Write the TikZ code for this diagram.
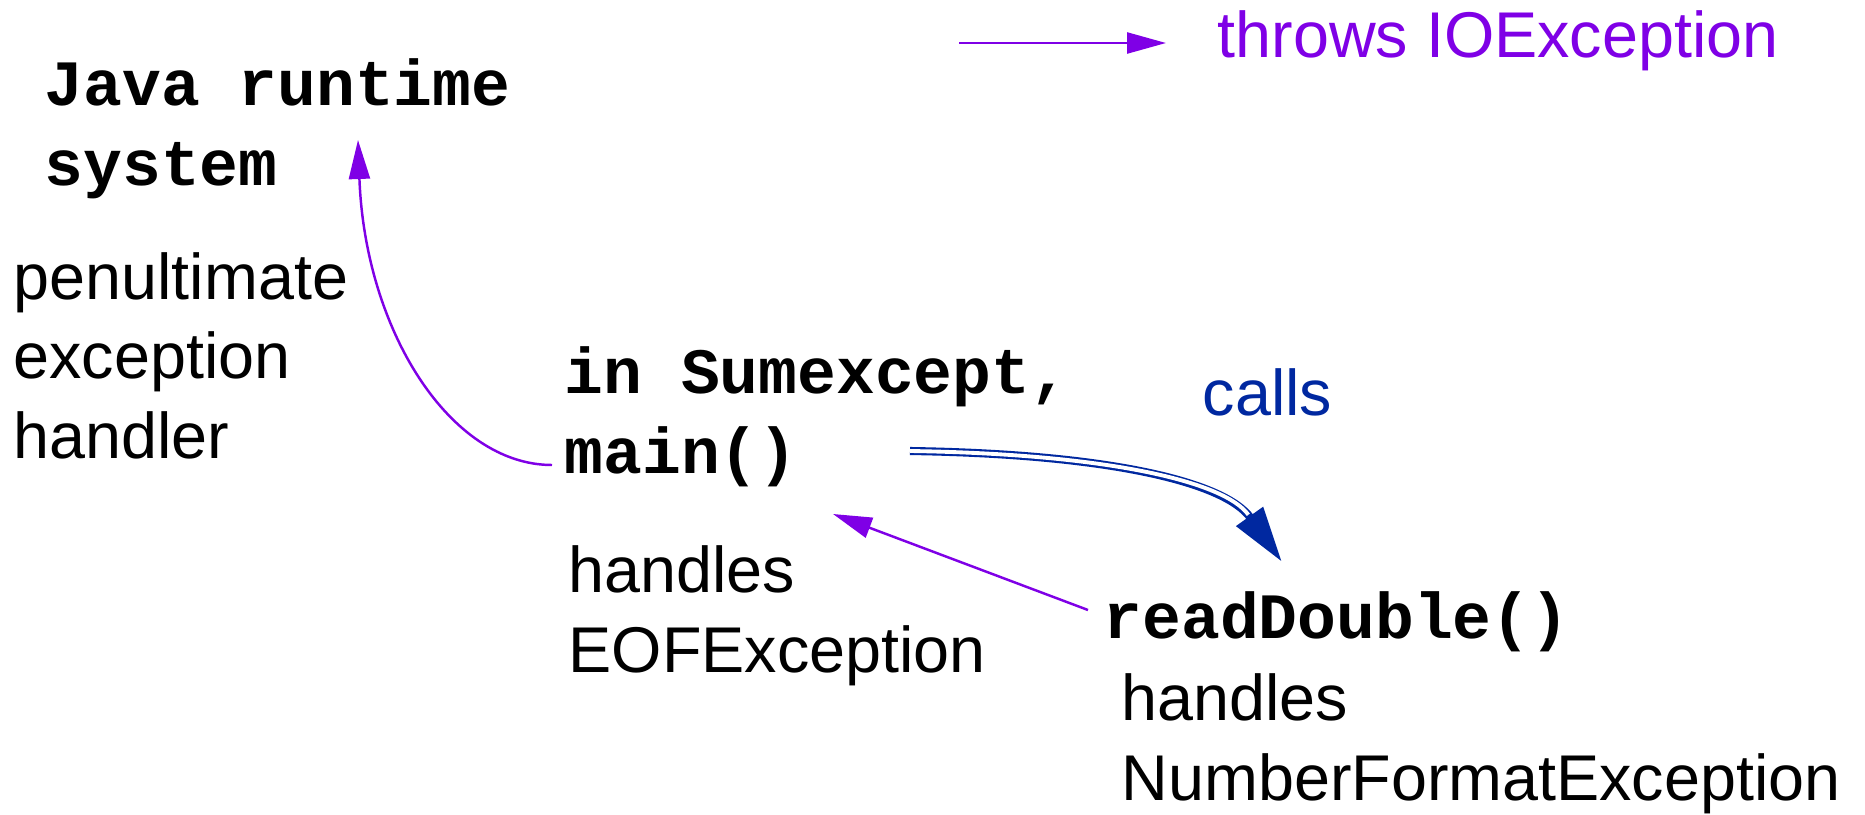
\documentclass[tikz,border=0pt]{standalone}
\usepackage{fontspec}
\setmainfont{Liberation Sans}
\setmonofont{Liberation Mono}
\usepackage{xcolor}
\usetikzlibrary{arrows.meta, calc, positioning}

\definecolor{excpurple}{RGB}{127,0,230}
\definecolor{callblue}{RGB}{0,40,160}

\begin{document}
\begin{tikzpicture}[
    txt/.style={anchor=base west, inner sep=0pt, align=left, font=\fontsize{18.4}{22.6}\selectfont},
    code/.style={txt, font=\fontsize{18.4}{22.6}\selectfont\ttfamily\bfseries},
    excarrow/.style={excpurple, line width=0.7pt, -{Triangle[length=3.9mm, width=2.1mm]}},
    callarrow/.style={callblue, line width=2.3pt, -{Triangle[length=5.6mm, width=3.1mm]}},
    callgap/.style={white, line width=1.1pt, shorten >=5.8mm}
]
\useasboundingbox (0,0) rectangle (18.65,-8.14);

% text (base = last line)
\node[code] (java) at (0.44,-1.85) {Java runtime\\system};
\node[txt, text=excpurple] (throws) at (12.17,-0.57) {throws IOException};
\node[txt] (penult) at (0.13,-4.58) {penultimate\\exception\\handler};
\node[code] (main) at (5.64,-4.73) {in Sumexcept,\\main()};
\node[txt] (eof) at (5.68,-6.72) {handles\\EOFException};
\node[txt, text=callblue] (calls) at (12.02,-4.15) {calls};
\node[code] (readd) at (11.03,-6.38) {readDouble()};
\node[txt] (nfe) at (11.21,-8.00) {handles\\NumberFormatException};

% arrow ends
\coordinate (legS) at (9.59,-0.43);
\coordinate (legE) at (11.66,-0.43);
\coordinate (mainL) at (5.52,-4.65);
\coordinate (sysT) at (3.58,-1.40);
\coordinate (mainR) at (9.10,-4.51);
\coordinate (readT) at (12.82,-5.62);
\coordinate (readL) at (10.88,-6.10);
\coordinate (mainB) at (8.33,-5.14);

% arrows
\draw[excarrow] (legS) -- (legE);
\draw[excarrow] (mainL) .. controls (4.50,-4.65) and (3.65,-3.30) .. (sysT);
\draw[excarrow] (readL) -- (mainB);
\draw[callarrow] (mainR) .. controls (11.10,-4.54) and (12.25,-4.82) .. (readT);
\draw[callgap] (mainR) .. controls (11.10,-4.54) and (12.25,-4.82) .. (readT);
\end{tikzpicture}
\end{document}
